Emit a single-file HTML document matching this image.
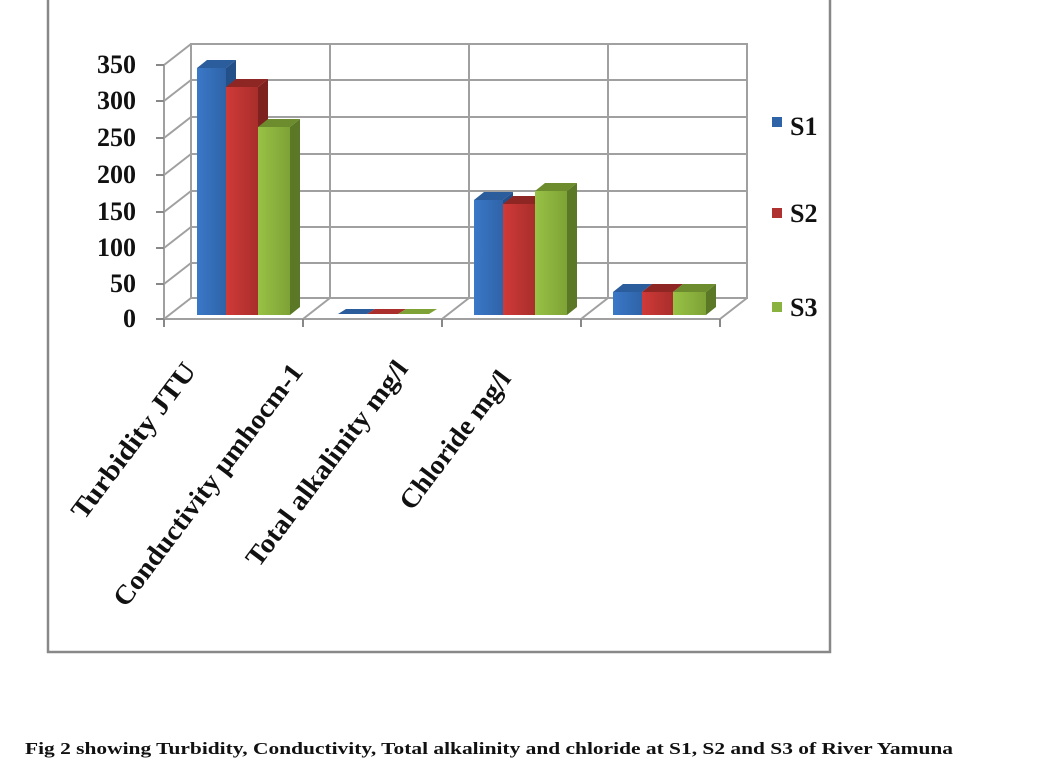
<!DOCTYPE html>
<html><head><meta charset="utf-8"><style>
body{margin:0;background:#fff}
svg{display:block}
text{font-family:"Liberation Serif",serif;font-weight:bold;fill:#111}
</style></head><body>
<svg width="1048" height="784" viewBox="0 0 1048 784">
<defs>
<linearGradient id="gb" x1="0" x2="1"><stop offset="0" stop-color="#3a78c8"/><stop offset="1" stop-color="#2f63a8"/></linearGradient>
<linearGradient id="gr" x1="0" x2="1"><stop offset="0" stop-color="#cf3a38"/><stop offset="1" stop-color="#a92e2c"/></linearGradient>
<linearGradient id="gg" x1="0" x2="1"><stop offset="0" stop-color="#98c245"/><stop offset="1" stop-color="#7ea236"/></linearGradient>
</defs>
<rect x="48" y="-2" width="782" height="654" fill="#fff" stroke="#888" stroke-width="2.5"/>
<g stroke="#a0a0a0" stroke-width="2" fill="none">
<rect x="191" y="44" width="556" height="254"/>
<line x1="191" y1="80" x2="747" y2="80"/><line x1="191" y1="117" x2="747" y2="117"/>
<line x1="191" y1="154" x2="747" y2="154"/><line x1="191" y1="191" x2="747" y2="191"/>
<line x1="191" y1="227" x2="747" y2="227"/><line x1="191" y1="263" x2="747" y2="263"/>
<line x1="330" y1="44" x2="330" y2="298"/><line x1="469" y1="44" x2="469" y2="298"/><line x1="608" y1="44" x2="608" y2="298"/>
<line x1="164" y1="65" x2="164" y2="319"/>
<line x1="164" y1="65" x2="191" y2="44"/><line x1="164" y1="101" x2="191" y2="80"/>
<line x1="164" y1="138" x2="191" y2="117"/><line x1="164" y1="175" x2="191" y2="154"/>
<line x1="164" y1="212" x2="191" y2="191"/><line x1="164" y1="248" x2="191" y2="227"/>
<line x1="164" y1="284" x2="191" y2="263"/><line x1="164" y1="319" x2="191" y2="298"/>
<line x1="164" y1="319" x2="720" y2="319"/><line x1="720" y1="319" x2="747" y2="298"/>
<line x1="303" y1="319" x2="330" y2="298"/><line x1="442" y1="319" x2="469" y2="298"/><line x1="581" y1="319" x2="608" y2="298"/>
<g stroke="#888"><line x1="156" y1="65" x2="164" y2="65"/><line x1="156" y1="101" x2="164" y2="101"/><line x1="156" y1="138" x2="164" y2="138"/><line x1="156" y1="175" x2="164" y2="175"/><line x1="156" y1="212" x2="164" y2="212"/><line x1="156" y1="248" x2="164" y2="248"/><line x1="156" y1="284" x2="164" y2="284"/><line x1="156" y1="319" x2="164" y2="319"/>
<line x1="164" y1="319" x2="164" y2="327"/><line x1="303" y1="319" x2="303" y2="327"/><line x1="442" y1="319" x2="442" y2="327"/><line x1="581" y1="319" x2="581" y2="327"/><line x1="720" y1="319" x2="720" y2="327"/></g>
</g>
<g font-size="26" font-weight="normal" text-anchor="end">
<text x="136" y="73">350</text><text x="136" y="109">300</text><text x="136" y="146">250</text><text x="136" y="183">200</text><text x="136" y="220">150</text><text x="136" y="256">100</text><text x="136" y="292">50</text><text x="136" y="327">0</text>
</g>
<g>
<polygon points="197,68 207,60 236,60 226,68" fill="#2b5c9c"/><polygon points="226,68 236,60 236,307 226,315" fill="#24508a"/><rect x="197" y="68" width="29" height="247" fill="url(#gb)"/>
<polygon points="226,87 236,79 268,79 258,87" fill="#8e2624"/><polygon points="258,87 268,79 268,307 258,315" fill="#7e2220"/><rect x="226" y="87" width="32" height="228" fill="url(#gr)"/>
<polygon points="258,127 268,119 300,119 290,127" fill="#6c8c2e"/><polygon points="290,127 300,119 300,307 290,315" fill="#5a7826"/><rect x="258" y="127" width="32" height="188" fill="url(#gg)"/>
<polygon points="338,314 346,309 375,309 367,314" fill="#2b5c9c"/><polygon points="367,314 375,309 406,309 398,314" fill="#a92e2c"/><polygon points="398,314 406,309 437,309 429,314" fill="#7ea236"/>
<polygon points="474,200 484,192 513,192 503,200" fill="#2b5c9c"/><polygon points="503,200 513,192 513,307 503,315" fill="#24508a"/><rect x="474" y="200" width="29" height="115" fill="url(#gb)"/>
<polygon points="503,204 513,196 545,196 535,204" fill="#8e2624"/><polygon points="535,204 545,196 545,307 535,315" fill="#7e2220"/><rect x="503" y="204" width="32" height="111" fill="url(#gr)"/>
<polygon points="535,191 545,183 577,183 567,191" fill="#6c8c2e"/><polygon points="567,191 577,183 577,307 567,315" fill="#5a7826"/><rect x="535" y="191" width="32" height="124" fill="url(#gg)"/>
<polygon points="613,292 623,284 652,284 642,292" fill="#2b5c9c"/><rect x="613" y="292" width="29" height="23" fill="url(#gb)"/>
<polygon points="642,292 652,284 683,284 673,292" fill="#8e2624"/><rect x="642" y="292" width="31" height="23" fill="url(#gr)"/>
<polygon points="673,292 683,284 716,284 706,292" fill="#6c8c2e"/><polygon points="706,292 716,284 716,307 706,315" fill="#5a7826"/><rect x="673" y="292" width="33" height="23" fill="url(#gg)"/>
</g>
<g font-size="27" text-anchor="end">
<text transform="translate(197,371) rotate(-53)" textLength="188" lengthAdjust="spacingAndGlyphs">Turbidity  JTU</text>
<text transform="translate(304,372) rotate(-53)" textLength="296" lengthAdjust="spacingAndGlyphs">Conductivity µmhocm-1</text>
<text transform="translate(409,369) rotate(-53)" textLength="250" lengthAdjust="spacingAndGlyphs">Total alkalinity mg/l</text>
<text transform="translate(512,379) rotate(-53)" textLength="166" lengthAdjust="spacingAndGlyphs">Chloride mg/l</text>
</g>
<g font-size="26" font-weight="normal">
<rect x="772" y="117" width="10" height="10" fill="#2f63a8"/><text x="790" y="135">S1</text>
<rect x="772" y="208" width="10" height="10" fill="#b03230"/><text x="790" y="222">S2</text>
<rect x="772" y="302" width="10" height="10" fill="#8ab23e"/><text x="790" y="316">S3</text>
</g>
<text x="25" y="754" font-size="17" textLength="928" lengthAdjust="spacingAndGlyphs">Fig 2 showing Turbidity, Conductivity, Total alkalinity and chloride at S1, S2 and S3 of River Yamuna</text>
</svg>
</body></html>
